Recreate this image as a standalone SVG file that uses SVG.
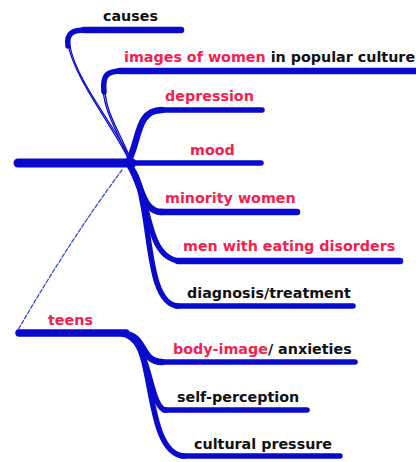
<svg xmlns="http://www.w3.org/2000/svg" width="416" height="462" viewBox="0 0 416 462">
<style>
.t{font-family:"DejaVu Sans",Verdana,sans-serif;font-weight:bold;font-size:14.3px;fill:#111}
.r{fill:#f51e4f}
.k{fill:#111}
.b{fill:none;stroke:#0a0acc;stroke-linecap:round;stroke-linejoin:round}
.w5{stroke-width:5.5}
.w6{stroke-width:6.5}
.thin{stroke-width:1.3}
.dash{stroke:#3a4ae0;stroke-width:1.3;stroke-dasharray:4 2}
</style>
<rect width="416" height="462" fill="#fff"/>
<g id="connectors">
  <path class="b thin" d="M128 158 C112 125 74 78 68 44"/>
  <path class="b thin" d="M130 158 C114 125 76 80 70 46"/>
  <path class="b thin" d="M128 158 C118 132 104 112 103 88"/>
  <path class="b thin" d="M130 158 C120 132 106 114 105 90"/>
  <path class="b dash" d="M122 170 Q70 240 18 330"/>
  <path class="b w5" d="M68 46 C66 32 74 30 86 30"/>
  <path class="b w5" d="M104 92 C102 74 108 71 122 71"/>
  <path class="b w6" d="M128 162 C140 140 136 110 162 110"/>
  <path class="b w6" d="M130 166 C142 185 142 212 162 212"/>
  <path class="b w5" d="M134 172 C150 200 146 258 180 261"/>
  <path class="b w5" d="M136 176 C152 220 146 304 178 306"/>
  <path class="b w6" d="M124 334 C146 335 140 362 162 362"/>
  <path class="b w5" d="M128 336 C150 345 150 410 166 410"/>
  <path class="b w5" d="M132 338 C154 352 146 454 184 456"/>
</g>
<g id="central">
  <line class="b" x1="18" y1="163" x2="132" y2="163" stroke-width="9" stroke-linecap="butt"/>
</g>
<g id="causes">
  <line class="b w6" x1="84" y1="30" x2="181" y2="30"/>
  <text class="t" x="103" y="21">causes</text>
</g>
<g id="images">
  <line class="b w6" x1="120" y1="71" x2="418" y2="71"/>
  <text class="t" x="124" y="62"><tspan class="r">images of women</tspan> in popular culture</text>
</g>
<g id="depression">
  <line class="b w5" x1="160" y1="110" x2="262" y2="110"/>
  <text class="t r" x="165" y="101">depression</text>
</g>
<g id="mood">
  <line class="b w5" x1="130" y1="163" x2="261" y2="163"/>
  <text class="t r" x="190" y="155">mood</text>
</g>
<g id="minority">
  <line class="b w6" x1="160" y1="212" x2="297" y2="212"/>
  <text class="t r" x="165" y="203">minority women</text>
</g>
<g id="men">
  <line class="b w6" x1="178" y1="261" x2="400" y2="261"/>
  <text class="t r" x="183" y="251">men with eating disorders</text>
</g>
<g id="diagnosis">
  <line class="b w5" x1="176" y1="306" x2="353" y2="306"/>
  <text class="t" x="187" y="298">diagnosis/treatment</text>
</g>
<g id="teens">
  <line class="b" x1="19" y1="333" x2="126" y2="333" stroke-width="7.5"/>
  <text class="t r" x="48" y="325">teens</text>
</g>
<g id="body">
  <line class="b w5" x1="160" y1="362" x2="355" y2="362"/>
  <text class="t" x="173" y="354"><tspan class="r">body-image</tspan>/ anxieties</text>
</g>
<g id="self">
  <line class="b w5" x1="164" y1="410" x2="307" y2="410"/>
  <text class="t" x="177" y="402">self-perception</text>
</g>
<g id="cultural">
  <line class="b w5" x1="182" y1="456" x2="340" y2="456"/>
  <text class="t" x="194" y="449">cultural pressure</text>
</g>
</svg>
